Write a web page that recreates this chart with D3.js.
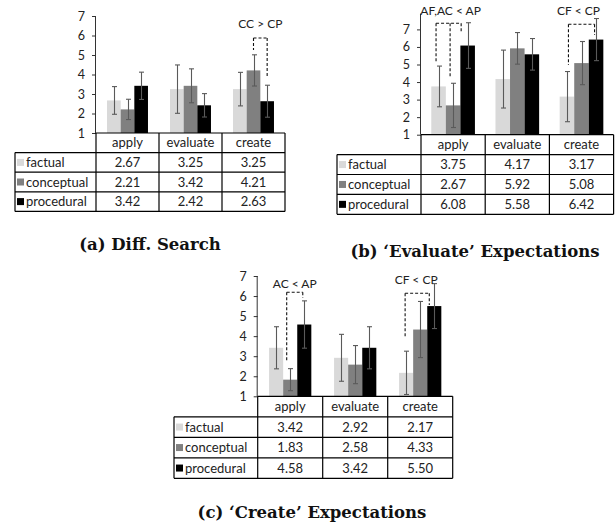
<!DOCTYPE html>
<html>
<head>
<meta charset="utf-8">
<script src="https://cdn.jsdelivr.net/npm/d3@7"></script>
<style>
  html, body { margin: 0; padding: 0; background: #fff; }
  svg { display: block; }
  .tick-label { font-family: Lato, "Open Sans", sans-serif; font-size: 12.5px; fill: #222; }
  .cell { font-family: Lato, "Open Sans", sans-serif; font-size: 13px; fill: #222; }
  .note { font-family: Lato, "Open Sans", sans-serif; font-size: 12px; fill: #222; }
  .caption { font-family: "DejaVu Serif", "Liberation Serif", serif; font-size: 16.5px; font-weight: bold; fill: #111; }
</style>
</head>
<body>
<svg id="chart" width="615" height="527"></svg>
<script>
// Shared labels
const categories = ["apply", "evaluate", "create"];
const seriesNames = ["factual", "conceptual", "procedural"];
const seriesColors = ["#d9d9d9", "#808080", "#000000"];
const tickValues = [1, 2, 3, 4, 5, 6, 7];

// (a) Diff. Search — means and error half-widths
const diffFactual = [2.67, 3.25, 3.25];
const diffConceptual = [2.21, 3.42, 4.21];
const diffProcedural = [3.42, 2.42, 2.63];
const diffFactualErr = [0.71, 1.24, 0.86];
const diffConceptualErr = [0.52, 0.87, 0.80];
const diffProceduralErr = [0.70, 0.60, 0.82];

// (b) 'Evaluate' Expectations
const evalFactual = [3.75, 4.17, 3.17];
const evalConceptual = [2.67, 5.92, 5.08];
const evalProcedural = [6.08, 5.58, 6.42];
const evalFactualErr = [1.16, 1.65, 1.43];
const evalConceptualErr = [1.26, 0.90, 1.23];
const evalProceduralErr = [1.30, 0.90, 1.20];

// (c) 'Create' Expectations
const createFactual = [3.42, 2.92, 2.17];
const createConceptual = [1.83, 2.58, 4.33];
const createProcedural = [4.58, 3.42, 5.50];
const createFactualErr = [1.05, 1.17, 1.08];
const createConceptualErr = [0.55, 0.95, 1.40];
const createProceduralErr = [1.18, 1.05, 1.12];

// Significance brackets: category, series legs with their lower end values
const diffNotes = [
  { label: "CC > CP", cat: "create", top: 5.87, textAt: 6.38,
    legs: [{ s: 1, end: 5.26, dx: 0 }, { s: 2, end: 3.82, dx: 0 }] }
];
const evalNotes = [
  { label: "AF,AC < AP", cat: "apply", top: 7.35, textAt: 7.82, tdx: 2,
    legs: [{ s: 0, end: 5.07, dx: -2.5 }, { s: 1, end: 4.23, dx: -3 }, { s: 2, end: 6.78, dx: -6.5 }] },
  { label: "CF < CP", cat: "create", top: 7.29, textAt: 7.82, tdx: -3,
    legs: [{ s: 0, end: 4.97, dx: 1.5 }, { s: 2, end: 6.68, dx: -1.5 }] }
];
const createNotes = [
  { label: "AC < AP", cat: "apply", top: 6.19, textAt: 6.4, tdx: 0,
    legs: [{ s: 1, end: 2.73, dx: -3.5 }, { s: 2, end: 5.92, dx: -1.5 }] },
  { label: "CF < CP", cat: "create", top: 6.14, textAt: 6.6, tdx: -1,
    legs: [{ s: 0, end: 3.89, dx: -1 }, { s: 2, end: 5.55, dx: -5 }] }
];

const svg = d3.select("#chart");

function drawPanel(cfg) {
  const { means, errs, notes } = cfg;
  const g = svg.append("g");

  const y = d3.scaleLinear().domain([1, cfg.yMax]).range([cfg.yBottom, cfg.yTop]);
  const x0 = d3.scaleBand().domain(categories)
    .range([cfg.axisX, cfg.axisX + 3 * cfg.catW]).paddingInner(0).paddingOuter(0);
  const groupW = x0.bandwidth() * cfg.groupFrac;
  const x1 = d3.scaleBand().domain(d3.range(seriesNames.length)).range([0, groupW]);
  const barX = (ci, si) => x0(categories[ci]) + (x0.bandwidth() - groupW) / 2 + x1(si);
  const barC = (ci, si) => barX(ci, si) + x1.bandwidth() / 2;

  // bars
  const rows = [];
  means.forEach((vals, si) => vals.forEach((v, ci) => rows.push({ si, ci, v, e: errs[si][ci] })));
  g.selectAll("rect.bar").data(rows).join("rect")
    .attr("class", "bar")
    .attr("x", d => barX(d.ci, d.si))
    .attr("width", x1.bandwidth())
    .attr("y", d => y(d.v))
    .attr("height", d => y(1) - y(d.v))
    .attr("fill", d => seriesColors[d.si]);

  // error bars
  const eb = g.append("g").attr("stroke", "#5a5a5a").attr("stroke-width", 1.1);
  rows.forEach(d => {
    const cx = Math.round(barC(d.ci, d.si)) + 0.5;
    const lo = Math.max(1, d.v - d.e), hi = d.v + d.e;
    eb.append("line").attr("x1", cx).attr("x2", cx).attr("y1", y(lo)).attr("y2", y(hi));
    [lo, hi].forEach(val => eb.append("line")
      .attr("x1", cx - 2.5).attr("x2", cx + 2.5).attr("y1", y(val)).attr("y2", y(val)));
  });

  // y axis
  const axis = d3.axisLeft(y).tickValues(tickValues).tickSize(4).tickPadding(7).tickFormat(d3.format("d"));
  const ax = g.append("g").attr("transform", `translate(${cfg.axisX},0)`).call(axis);
  ax.select(".domain").attr("stroke", "#333").attr("d", `M-0.5,${y(1)}V${y(cfg.yMax)}`);
  ax.selectAll(".tick line").attr("stroke", "#333");
  ax.selectAll(".tick text").attr("class", "tick-label").attr("fill", null);

  // table below the axis
  const tg = g.append("g");
  const rowH = cfg.rowH;
  const t0 = y(1);
  const right = cfg.axisX + 3 * cfg.catW;
  const line = (x1_, y1_, x2_, y2_) => tg.append("line")
    .attr("x1", x1_).attr("y1", y1_).attr("x2", x2_).attr("y2", y2_)
    .attr("stroke", "#000").attr("stroke-width", 1.2);
  // horizontal rules
  line(cfg.axisX, t0, right, t0);
  for (let r = 1; r <= 4; r++) line(cfg.tableLeft, t0 + r * rowH, right, t0 + r * rowH);
  // vertical rules
  line(cfg.tableLeft, t0 + rowH, cfg.tableLeft, t0 + 4 * rowH);
  [0, 1, 2, 3].forEach(i => line(cfg.axisX + i * cfg.catW, t0, cfg.axisX + i * cfg.catW, t0 + 4 * rowH));

  // header labels
  categories.forEach(c => tg.append("text").attr("class", "cell")
    .attr("x", x0(c) + x0.bandwidth() / 2).attr("y", t0 + rowH / 2 + 4.5)
    .attr("text-anchor", "middle").text(c));
  // series rows
  seriesNames.forEach((s, si) => {
    const ry = t0 + (si + 1) * rowH;
    tg.append("rect").attr("x", cfg.tableLeft + 2).attr("y", ry + rowH / 2 - 3.5)
      .attr("width", 7).attr("height", 7).attr("fill", seriesColors[si]);
    tg.append("text").attr("class", "cell").attr("x", cfg.tableLeft + 11).attr("y", ry + rowH / 2 + 4.5).text(s);
    means[si].forEach((v, ci) => tg.append("text").attr("class", "cell")
      .attr("x", x0(categories[ci]) + x0.bandwidth() / 2).attr("y", ry + rowH / 2 + 4.5)
      .attr("text-anchor", "middle").text(d3.format(".2f")(v)));
  });

  // significance brackets
  notes.forEach(n => {
    const ci = categories.indexOf(n.cat);
    const xs = n.legs.map(l => barC(ci, l.s) + l.dx);
    const ng = g.append("g").attr("stroke", "#111").attr("stroke-width", 1.1)
      .attr("stroke-dasharray", "3,2").attr("fill", "none");
    ng.append("line").attr("x1", d3.min(xs)).attr("x2", d3.max(xs)).attr("y1", y(n.top)).attr("y2", y(n.top));
    n.legs.forEach((l, i) => ng.append("line").attr("x1", xs[i]).attr("x2", xs[i])
      .attr("y1", y(n.top)).attr("y2", y(l.end)));
    g.append("text").attr("class", "note")
      .attr("x", (d3.min(xs) + d3.max(xs)) / 2 + (n.tdx || 0)).attr("y", y(n.textAt))
      .attr("text-anchor", "middle").text(n.label);
  });

  // caption
  svg.append("text").attr("class", "caption")
    .attr("x", cfg.capX).attr("y", cfg.capY).attr("text-anchor", "middle").text(cfg.caption);
}

drawPanel({
  means: [diffFactual, diffConceptual, diffProcedural],
  errs: [diffFactualErr, diffConceptualErr, diffProceduralErr],
  notes: diffNotes,
  axisX: 96, yBottom: 133, yTop: 16, yMax: 7, catW: 63, groupFrac: 0.65,
  tableLeft: 15, rowH: 19.6,
  caption: "(a) Diff. Search", capX: 150, capY: 250
});

drawPanel({
  means: [evalFactual, evalConceptual, evalProcedural],
  errs: [evalFactualErr, evalConceptualErr, evalProceduralErr],
  notes: evalNotes,
  axisX: 421, yBottom: 134.7, yTop: 134.7 - 6.9 * 17.55, yMax: 7.9, catW: 64.2, groupFrac: 0.68,
  tableLeft: 337, rowH: 19.9,
  caption: "(b) \u2018Evaluate\u2019 Expectations", capX: 475, capY: 257
});

drawPanel({
  means: [createFactual, createConceptual, createProcedural],
  errs: [createFactualErr, createConceptualErr, createProceduralErr],
  notes: createNotes,
  axisX: 257.7, yBottom: 396.3, yTop: 396.3 - 6 * 20.05, yMax: 7, catW: 65, groupFrac: 0.65,
  tableLeft: 174, rowH: 20.5,
  caption: "(c) \u2018Create\u2019 Expectations", capX: 312, capY: 518
});
</script>
</body>
</html>
